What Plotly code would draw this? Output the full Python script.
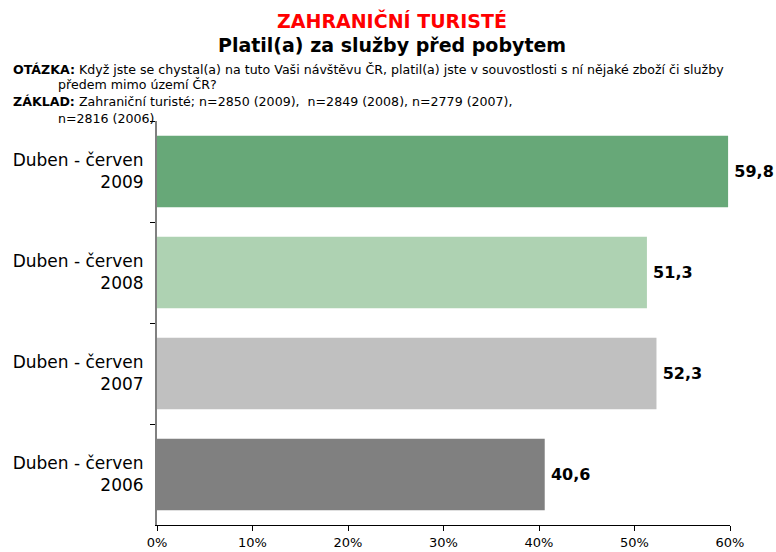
import plotly.graph_objects as go

categories = ["Duben - červen<br>2009", "Duben - červen<br>2008", "Duben - červen<br>2007", "Duben - červen<br>2006"]
values = [59.8, 51.3, 52.3, 40.6]
colors = ["#67A878", "#AED2B2", "#C0C0C0", "#808080"]
tick_vals = [0, 10, 20, 30, 40, 50, 60]
tick_text = ["0%", "10%", "20%", "30%", "40%", "50%", "60%"]

labels = ["\u2009" + f"{v:.1f}".replace(".", ",") for v in values]

fig = go.Figure(go.Bar(
    y=categories, x=values, orientation="h",
    marker=dict(color=colors, line=dict(width=0)),
    text=labels, textposition="outside", cliponaxis=False,
    textfont=dict(family="DejaVu Sans", size=16, color="black", weight="bold"),
    width=0.71,
))

plot_l, plot_r, plot_t, plot_b = 157, 730, 121, 525
W, H = 776, 552

fig.update_layout(
    width=W, height=H,
    margin=dict(l=plot_l, r=W - plot_r, t=plot_t, b=H - plot_b, autoexpand=False),
    paper_bgcolor="white", plot_bgcolor="white",
    showlegend=False,
    font=dict(family="DejaVu Sans", color="black"),
    xaxis=dict(range=[0, 60], tickvals=tick_vals, ticktext=tick_text,
               showgrid=False, zeroline=False, showline=True, linecolor="black",
               linewidth=1, ticks="outside", ticklen=5, tickcolor="black",
               tickfont=dict(size=13, family="DejaVu Sans"), automargin=False),
    yaxis=dict(autorange="reversed", showgrid=False, zeroline=False,
               showline=True, linecolor="#808080", linewidth=2,
               ticks="outside", tickson="boundaries", ticklen=5, tickcolor="black",
               tickfont=dict(size=17, family="DejaVu Sans"), ticklabelstandoff=8,
               automargin=False),
)

anns = [
    dict(text="<b>ZAHRANIČNÍ TURISTÉ</b>", x=392, y=20, size=19, color="#FF0000", anchor="center"),
    dict(text="<b>Platil(a) za služby před pobytem</b>", x=392, y=45, size=19, color="black", anchor="center"),
    dict(text="<b>OTÁZKA:</b> Když jste se chystal(a) na tuto Vaši návštěvu ČR, platil(a) jste v souvostlosti s ní nějaké zboží či služby",
         x=11, y=69, size=12.6, color="black", anchor="left"),
    dict(text="předem mimo území ČR?", x=56, y=85, size=12.6, color="black", anchor="left"),
    dict(text="<b>ZÁKLAD:</b> Zahraniční turisté; n=2850 (2009),  n=2849 (2008), n=2779 (2007),",
         x=11, y=102, size=12.6, color="black", anchor="left"),
    dict(text="n=2816 (2006)", x=56, y=118, size=12.6, color="black", anchor="left"),
]
for a in anns:
    fig.add_annotation(text=a["text"],
                       x=(a["x"] - plot_l) / (plot_r - plot_l),
                       y=(plot_b - a["y"]) / (plot_b - plot_t),
                       xref="paper", yref="paper", showarrow=False,
                       xanchor=a["anchor"], yanchor="middle",
                       font=dict(size=a["size"], color=a["color"], family="DejaVu Sans"))

fig.write_html("out.html", config={"displayModeBar": False},
               post_script="document.body.style.margin='0';document.body.style.overflow='hidden';")
